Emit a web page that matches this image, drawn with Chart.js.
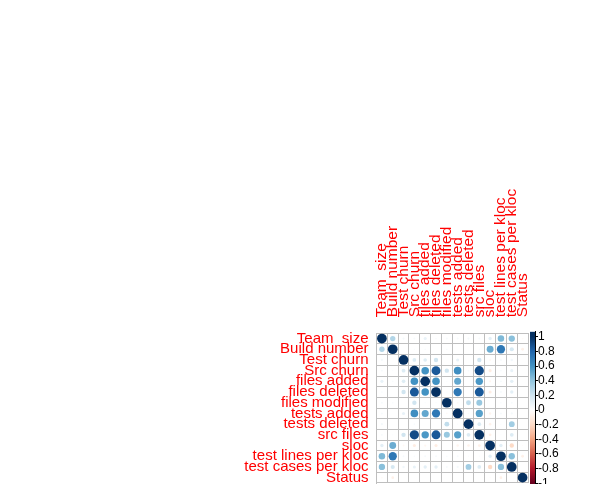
<!DOCTYPE html>
<html><head><meta charset="utf-8">
<script src="https://cdn.jsdelivr.net/npm/chart.js@4/dist/chart.umd.min.js"></script>
<style>
html,body{margin:0;padding:0;background:#fff;overflow:hidden;width:590px;height:484px;}
#wrap{position:relative;width:590px;height:484px;overflow:hidden;}
canvas{position:absolute;left:0;top:0;}
</style></head><body>
<div id="wrap"><canvas id="c1" width="590" height="500"></canvas><canvas id="c2" width="590" height="500"></canvas></div>
<script>
// ---- data ----
const variables = ["Team  size","Build number","Test churn","Src churn","files added","files deleted","files modified","tests added","tests deleted","src files","sloc","test lines per kloc","test cases per kloc","Status"];
const rowTeamSize        = [1, 0.30, 0.05, 0.04, 0.10, 0.03, 0.04, 0.04, 0.05, 0.04, 0.12, 0.45, 0.42, -0.03];
const rowBuildNumber     = [0.30, 1, 0.01, 0.02, 0.03, 0.01, 0.03, 0.01, 0.01, 0.02, 0.50, 0.72, 0.18, -0.08];
const rowTestChurn       = [0.05, 0.01, 1, 0.15, 0.14, 0.20, 0.00, 0.10, 0.00, 0.20, -0.04, 0.04, 0.06, 0.00];
const rowSrcChurn        = [0.04, 0.02, 0.15, 1, 0.60, 0.85, 0.20, 0.62, 0.03, 0.90, -0.10, 0.03, 0.10, 0.01];
const rowFilesAdded      = [0.10, 0.03, 0.14, 0.60, 1, 0.60, 0.02, 0.52, 0.01, 0.58, -0.05, 0.04, 0.12, 0.01];
const rowFilesDeleted    = [0.03, 0.01, 0.20, 0.85, 0.60, 1, 0.02, 0.72, 0.01, 0.85, -0.10, 0.04, 0.12, 0.01];
const rowFilesModified   = [0.04, 0.03, 0.00, 0.20, 0.02, 0.02, 1, -0.03, 0.25, 0.38, 0.01, 0.03, 0.04, 0.00];
const rowTestsAdded      = [0.04, 0.01, 0.10, 0.62, 0.52, 0.72, -0.03, 1, 0.02, 0.55, -0.06, 0.04, 0.05, 0.00];
const rowTestsDeleted    = [0.05, 0.01, 0.00, 0.03, 0.01, 0.01, 0.25, 0.02, 1, 0.15, -0.07, 0.02, 0.35, 0.00];
const rowSrcFiles        = [0.04, 0.02, 0.20, 0.90, 0.58, 0.85, 0.38, 0.55, 0.15, 1, -0.08, 0.02, 0.15, 0.00];
const rowSloc            = [0.12, 0.50, -0.04, -0.10, -0.05, -0.10, 0.01, -0.06, -0.07, -0.08, 1, 0.12, -0.20, -0.02];
const rowTestLinesKloc   = [0.45, 0.72, 0.04, 0.03, 0.04, 0.04, 0.03, 0.04, 0.02, 0.02, 0.12, 1, 0.42, -0.08];
const rowTestCasesKloc   = [0.42, 0.18, 0.06, 0.10, 0.12, 0.12, 0.04, 0.05, 0.35, 0.15, -0.20, 0.42, 1, 0.01];
const rowStatus          = [-0.03, -0.08, 0.00, 0.01, 0.01, 0.01, 0.00, 0.00, 0.00, 0.00, -0.02, -0.08, 0.01, 1];
const corrRows = [rowTeamSize,rowBuildNumber,rowTestChurn,rowSrcChurn,rowFilesAdded,rowFilesDeleted,rowFilesModified,rowTestsAdded,rowTestsDeleted,rowSrcFiles,rowSloc,rowTestLinesKloc,rowTestCasesKloc,rowStatus];
const colorbarTicks = [-1,-0.8,-0.6,-0.4,-0.2,0,0.2,0.4,0.6,0.8,1];
const colorbarTickLabels = ["-1","-0.8","-0.6","-0.4","-0.2","0","0.2","0.4","0.6","0.8","1"];
const colorbarRange = [-1.068, 1.068];

// ---- styles ----
const palette = ["#67001F","#B2182B","#D6604D","#F4A582","#FDDBC7","#FFFFFF","#D1E5F0","#92C5DE","#4393C3","#2166AC","#053061"];
function hex2rgb(h){return [parseInt(h.substr(1,2),16),parseInt(h.substr(3,2),16),parseInt(h.substr(5,2),16)];}
function colorFor(v){
  let t = (Math.max(-1,Math.min(1,v))+1)/2*(palette.length-1);
  let i = Math.min(Math.floor(t), palette.length-2), f = t-i;
  const a = hex2rgb(palette[i]), b = hex2rgb(palette[i+1]);
  return 'rgb('+a.map((c,k)=>Math.round(c+(b[k]-c)*f)).join(',')+')';
}
const leftFont = {family:'Liberation Sans, Arial, sans-serif', size:15};
const topFont = {family:'Liberation Sans, Arial, sans-serif', size:15.5};
const gridCol = '#BEBEBE';

const points = [];
corrRows.forEach((row,i)=>row.forEach((v,j)=>points.push({x:variables[j], y:variables[i], v:v})));

function radiusFor(ctx){
  const ca = ctx.chart.chartArea;
  const cell = ca ? (ca.right-ca.left)/variables.length : 10.83;
  const v = ctx.raw ? ctx.raw.v : 0;
  return 0.45*Math.sqrt(Math.abs(v))*cell;
}

new Chart(document.getElementById('c1'), {
  type:'scatter',
  data:{datasets:[{
    data:points,
    pointRadius:radiusFor, pointHoverRadius:radiusFor,
    backgroundColor:ctx=>colorFor(ctx.raw?ctx.raw.v:0),
    pointBorderWidth:0, borderWidth:0
  }]},
  options:{
    responsive:false, animation:false, events:[],
    plugins:{legend:{display:false}, tooltip:{enabled:false}},
    layout:{autoPadding:false, padding:{left:0, top:0, right:62, bottom:15.2}},
    scales:{
      x:{type:'category', labels:variables, position:'top', offset:true,
         grid:{offset:true, color:gridCol, drawTicks:false, lineWidth:1},
         border:{color:gridCol},
         ticks:{autoSkip:false, minRotation:90, maxRotation:90, color:'#FF0000', font:topFont, padding:16, labelOffset:18.6},
         afterFit:s=>{s.height=333.2;}},
      y:{type:'category', labels:variables, position:'left', offset:true,
         grid:{offset:true, color:gridCol, drawTicks:false, lineWidth:1},
         border:{color:gridCol},
         ticks:{autoSkip:false, color:'#FF0000', font:leftFont, padding:8},
         afterFit:s=>{s.width=376.5;}}
    }
  }
});

function barGradient(ctx){
  const chart = ctx.chart, sc = chart.scales.y;
  if(!chart.chartArea || !sc) return palette[5];
  const g = chart.ctx.createLinearGradient(0, sc.getPixelForValue(1), 0, sc.getPixelForValue(-1));
  for(let k=0;k<palette.length;k++){ g.addColorStop(k/(palette.length-1), palette[palette.length-1-k]); }
  return g;
}

new Chart(document.getElementById('c2'), {
  type:'bar',
  data:{labels:['cb'], datasets:[{data:[colorbarRange], backgroundColor:barGradient, borderWidth:0, barPercentage:1, categoryPercentage:1}]},
  options:{
    responsive:false, animation:false, events:[],
    plugins:{legend:{display:false}, tooltip:{enabled:false}},
    layout:{autoPadding:false, padding:{left:530, top:331.7, right:0, bottom:11.7}},
    scales:{
      x:{display:false},
      y:{position:'right', min:colorbarRange[0], max:colorbarRange[1],
         afterBuildTicks:s=>{s.ticks = colorbarTicks.map(v=>({value:v}));},
         ticks:{callback:(v,i)=>colorbarTickLabels[i], color:'#000', font:{family:'Liberation Sans, Arial, sans-serif', size:12}, padding:0, autoSkip:false},
         grid:{drawOnChartArea:false, drawTicks:true, tickLength:3, color:'#000'},
         border:{display:true, color:'#000'},
         afterFit:s=>{s.width=55;}}
    }
  }
});
</script>
</body></html>
